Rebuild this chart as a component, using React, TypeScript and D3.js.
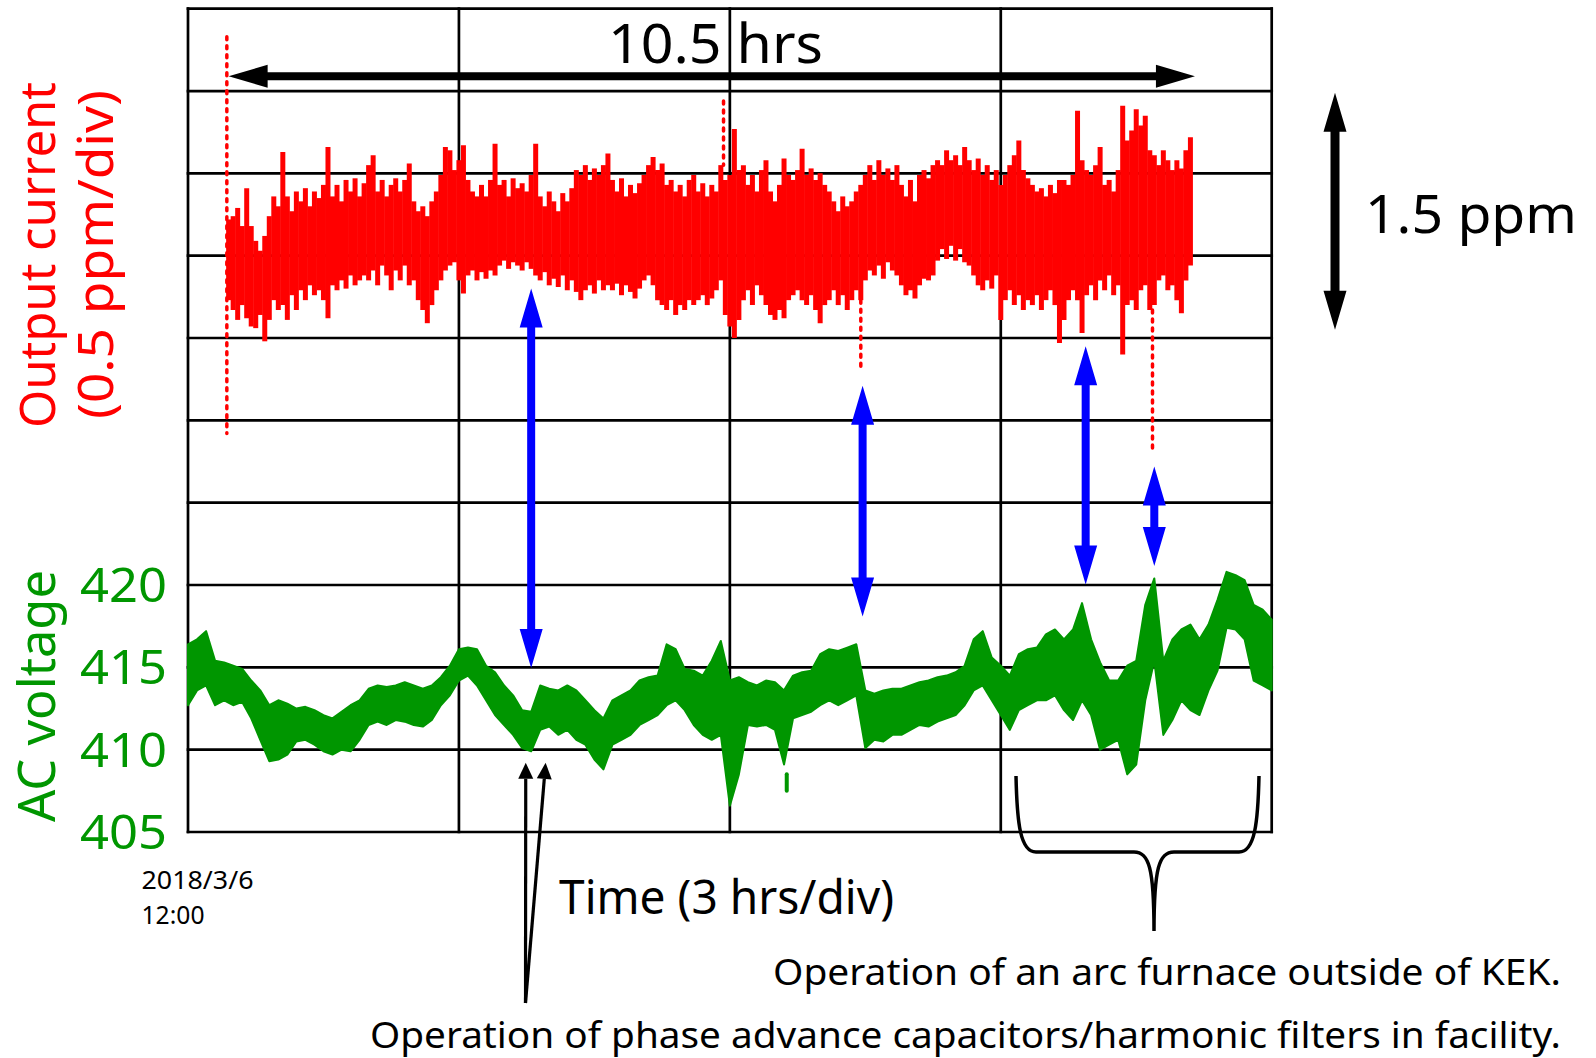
import React, { useEffect, useRef } from 'react';
import * as d3 from 'd3';

// time axis (hours since 2018/3/6 12:00), 3 hrs/div
const timeTicks = [0, 3, 6, 9, 12];
// AC voltage tick labels; the grid keeps 5 V/div up to the top
const voltLabels = [405, 410, 415, 420];
const gridVolts = [405, 410, 415, 420, 425, 430, 435, 440, 445, 450, 455];

// output current deviation (ppm), envelope every 0.05 h from 0.45 h
const redStart = 0.45;
const redStep = 0.05;
const redHi = [
  0.22, 0.24, 0.29, 0.18, 0.41, 0.18, 0.09, 0.03, 0.12, 0.24,
  0.36, 0.30, 0.63, 0.36, 0.27, 0.39, 0.33, 0.41, 0.30, 0.39,
  0.35, 0.43, 0.66, 0.36, 0.43, 0.33, 0.46, 0.39, 0.47, 0.36,
  0.44, 0.55, 0.61, 0.39, 0.46, 0.36, 0.43, 0.47, 0.39, 0.46,
  0.56, 0.33, 0.27, 0.30, 0.24, 0.33, 0.39, 0.49, 0.66, 0.64,
  0.52, 0.58, 0.67, 0.46, 0.39, 0.36, 0.43, 0.36, 0.46, 0.68,
  0.43, 0.46, 0.36, 0.47, 0.41, 0.44, 0.39, 0.49, 0.68, 0.36,
  0.30, 0.39, 0.33, 0.27, 0.38, 0.33, 0.41, 0.52, 0.49, 0.55,
  0.46, 0.53, 0.49, 0.55, 0.62, 0.46, 0.39, 0.47, 0.36, 0.43,
  0.38, 0.44, 0.49, 0.55, 0.60, 0.52, 0.56, 0.43, 0.46, 0.39,
  0.43, 0.36, 0.46, 0.49, 0.39, 0.44, 0.36, 0.43, 0.39, 0.55,
  0.46, 0.49, 0.77, 0.52, 0.55, 0.43, 0.49, 0.39, 0.52, 0.58,
  0.39, 0.33, 0.43, 0.59, 0.49, 0.46, 0.52, 0.65, 0.49, 0.53,
  0.46, 0.50, 0.43, 0.39, 0.33, 0.27, 0.36, 0.30, 0.33, 0.39,
  0.43, 0.49, 0.55, 0.46, 0.58, 0.49, 0.53, 0.46, 0.55, 0.43,
  0.36, 0.46, 0.33, 0.49, 0.52, 0.47, 0.55, 0.58, 0.55, 0.64,
  0.58, 0.61, 0.55, 0.66, 0.58, 0.52, 0.59, 0.49, 0.55, 0.46,
  0.52, 0.43, 0.49, 0.55, 0.61, 0.70, 0.52, 0.47, 0.43, 0.39,
  0.41, 0.36, 0.43, 0.38, 0.46, 0.46, 0.43, 0.49, 0.88, 0.58,
  0.52, 0.49, 0.55, 0.66, 0.43, 0.46, 0.39, 0.52, 0.91, 0.70,
  0.76, 0.89, 0.79, 0.85, 0.64, 0.61, 0.55, 0.64, 0.58, 0.52,
  0.58, 0.53, 0.64, 0.72,
];
const redLo = [
  -0.27, -0.33, -0.39, -0.30, -0.38, -0.43, -0.44, -0.36, -0.52, -0.39,
  -0.27, -0.33, -0.30, -0.39, -0.24, -0.33, -0.21, -0.27, -0.18, -0.24,
  -0.21, -0.27, -0.38, -0.18, -0.21, -0.15, -0.20, -0.12, -0.18, -0.15,
  -0.12, -0.15, -0.09, -0.18, -0.06, -0.12, -0.21, -0.09, -0.15, -0.06,
  -0.18, -0.15, -0.27, -0.33, -0.41, -0.30, -0.21, -0.15, -0.09, -0.06,
  -0.04, -0.15, -0.23, -0.12, -0.09, -0.15, -0.10, -0.14, -0.09, -0.12,
  -0.06, -0.03, -0.08, -0.04, -0.06, -0.09, -0.04, -0.08, -0.12, -0.15,
  -0.10, -0.18, -0.14, -0.19, -0.12, -0.21, -0.15, -0.22, -0.27, -0.21,
  -0.18, -0.23, -0.15, -0.21, -0.18, -0.21, -0.17, -0.24, -0.18, -0.22,
  -0.26, -0.20, -0.15, -0.12, -0.18, -0.27, -0.30, -0.33, -0.27, -0.36,
  -0.30, -0.33, -0.27, -0.30, -0.27, -0.24, -0.30, -0.26, -0.21, -0.15,
  -0.36, -0.43, -0.50, -0.39, -0.27, -0.21, -0.30, -0.18, -0.24, -0.30,
  -0.36, -0.39, -0.33, -0.38, -0.27, -0.24, -0.21, -0.27, -0.30, -0.24,
  -0.33, -0.41, -0.30, -0.27, -0.21, -0.30, -0.24, -0.33, -0.27, -0.21,
  -0.27, -0.15, -0.09, -0.12, -0.06, -0.14, -0.04, -0.09, -0.12, -0.18,
  -0.24, -0.21, -0.26, -0.18, -0.14, -0.15, -0.12, -0.03, 0.04, -0.02,
  0.06, -0.03, 0.04, -0.04, -0.06, -0.12, -0.18, -0.21, -0.15, -0.20,
  -0.12, -0.39, -0.27, -0.21, -0.30, -0.24, -0.33, -0.27, -0.30, -0.24,
  -0.33, -0.27, -0.21, -0.30, -0.53, -0.39, -0.27, -0.21, -0.27, -0.47,
  -0.24, -0.18, -0.27, -0.15, -0.21, -0.12, -0.24, -0.18, -0.60, -0.30,
  -0.27, -0.33, -0.21, -0.18, -0.33, -0.30, -0.15, -0.12, -0.21, -0.18,
  -0.27, -0.35, -0.15, -0.06,
];
// sparse dotted excursions of the current
const redTrails = [
  { t: 0.43, hi: 1.33, lo: -1.08 },
  { t: 5.93, hi: 0.94, lo: 0.55 },
  { t: 7.45, hi: -0.27, lo: -0.68 },
  { t: 10.68, hi: -0.33, lo: -1.2 },
];

// AC voltage (V), envelope every 0.1 h from 0 h
const greenStart = 0;
const greenStep = 0.1;
const greenHi = [
  416.4, 416.7, 417.2, 415.4, 415.3, 415.1, 414.9, 414.2, 413.6, 412.7,
  413.0, 412.8, 412.5, 412.6, 412.4, 412.1, 411.9, 412.3, 412.7, 413.0,
  413.7, 413.9, 413.8, 413.9, 414.1, 413.9, 413.7, 413.9, 414.4, 415.1,
  416.1, 416.2, 416.1, 415.1, 414.7, 413.9, 413.3, 412.4, 412.3, 413.9,
  413.7, 413.6, 413.9, 413.6, 413.0, 412.4, 411.9, 413.0, 413.3, 413.6,
  414.2, 414.4, 414.5, 416.4, 416.1, 414.9, 414.8, 414.5, 415.4, 416.6,
  414.2, 414.4, 414.1, 413.9, 414.2, 414.1, 413.6, 414.5, 414.7, 414.8,
  415.8, 416.1, 416.0, 416.2, 416.4, 413.6, 413.4, 413.6, 413.7, 413.7,
  413.9, 414.1, 414.2, 414.4, 414.5, 414.7, 415.1, 416.7, 417.2, 415.6,
  415.1, 414.5, 415.8, 416.1, 416.2, 417.0, 417.3, 416.7, 417.3, 418.9,
  416.7, 415.3, 414.2, 414.2, 415.1, 415.4, 418.8, 420.4, 415.4, 416.7,
  417.3, 417.6, 416.7, 417.6, 419.1, 420.8, 420.6, 420.3, 418.8, 418.5,
  417.9,
];
const greenLo = [
  412.7, 413.6, 413.9, 412.7, 413.0, 412.7, 412.9, 411.9, 410.6, 409.3,
  409.4, 409.7, 410.5, 410.6, 410.3, 409.9, 409.7, 410.0, 409.9, 410.6,
  411.5, 411.7, 411.5, 411.8, 411.7, 411.5, 411.4, 411.8, 412.7, 413.3,
  414.2, 414.5, 413.9, 413.0, 412.1, 411.5, 410.9, 410.1, 409.9, 411.2,
  411.4, 410.9, 411.2, 410.6, 410.3, 409.4, 408.8, 410.3, 410.6, 410.9,
  411.5, 411.8, 412.1, 412.7, 413.0, 412.4, 411.5, 410.9, 410.6, 410.9,
  406.6, 408.5, 411.5, 411.4, 411.5, 411.2, 409.1, 411.9, 412.1, 412.3,
  412.7, 413.0, 412.7, 413.0, 413.3, 410.1, 410.6, 410.5, 410.9, 410.9,
  411.2, 411.5, 411.4, 411.7, 411.9, 412.1, 412.7, 413.6, 413.9, 413.0,
  412.1, 411.2, 412.4, 412.7, 413.0, 413.0, 413.3, 412.4, 411.8, 413.0,
  412.1, 410.0, 410.3, 410.6, 408.5, 409.1, 413.0, 415.4, 410.9, 411.8,
  413.0, 412.4, 412.1, 413.6, 414.8, 417.4, 417.3, 416.7, 414.2, 413.9,
  413.6,
];
const greenTrails = [{ t: 6.63, hi: 408.5, lo: 407.5 }];

// correlated events: current dip (ppm) <-> voltage step (V)
const events = [
  { t: 3.8, cur: -0.2, volt: 414.96 },
  { t: 7.47, cur: -0.79, volt: 418.09 },
  { t: 9.94, cur: -0.55, volt: 420.03 },
  { t: 10.7, cur: -1.28, volt: 421.15 },
];
const capacitorTips = [
  { t: 3.74, volt: 409.2 },
  { t: 3.96, volt: 409.2 },
];
const spanHours = [0.45, 11.15];
const spanLevel = 1.09;
const scaleBar = [0.99, -0.45];

const RED = '#ff0000';
const GREEN = '#009600';
const BLUE = '#0000ff';
const FONT = "'Noto Sans', sans-serif";

function vArrow(x: number, y1: number, y2: number, shaft = 8, headLen = 39, half = 11.5) {
  const s = shaft / 2;
  return `M${x},${y1}L${x + half},${y1 + headLen}L${x + s},${y1 + headLen}L${x + s},${y2 - headLen}` +
    `L${x + half},${y2 - headLen}L${x},${y2}L${x - half},${y2 - headLen}L${x - s},${y2 - headLen}` +
    `L${x - s},${y1 + headLen}L${x - half},${y1 + headLen}Z`;
}

function hArrow(x1: number, x2: number, y: number, shaft = 8, headLen = 39, half = 11.5) {
  const s = shaft / 2;
  return `M${x1},${y}L${x1 + headLen},${y - half}L${x1 + headLen},${y - s}L${x2 - headLen},${y - s}` +
    `L${x2 - headLen},${y - half}L${x2},${y}L${x2 - headLen},${y + half}L${x2 - headLen},${y + s}` +
    `L${x1 + headLen},${y + s}L${x1 + headLen},${y + half}Z`;
}

export default function App() {
  const ref = useRef<SVGSVGElement | null>(null);

  useEffect(() => {
    const svg = d3.select(ref.current);
    svg.selectAll('*').remove();

    const x = d3.scaleLinear().domain([0, 12]).range([188, 1271.7]);
    const yV = d3.scaleLinear().domain([405, 455]).range([832, 8.7]);
    const yC = d3.scaleLinear().domain([-3.5, 1.5]).range([832, 8.7]);

    svg.append('rect').attr('width', 1596).attr('height', 1058).attr('fill', '#fff');

    // grid
    const grid = svg.append('g').attr('stroke', '#000').attr('stroke-width', 2.7).attr('stroke-linecap', 'square');
    gridVolts.forEach(v => {
      grid.append('line').attr('x1', x(0)).attr('x2', x(12)).attr('y1', yV(v)).attr('y2', yV(v));
    });
    timeTicks.forEach(t => {
      grid.append('line').attr('x1', x(t)).attr('x2', x(t)).attr('y1', yV(405)).attr('y2', yV(455));
    });

    // output current
    const red = redHi.map((h, i) => ({ t: redStart + i * redStep, hi: h, lo: redLo[i] }));
    svg.append('g')
      .selectAll('line')
      .data(red)
      .join('line')
      .attr('x1', d => x(d.t)).attr('x2', d => x(d.t))
      .attr('y1', d => yC(d.hi)).attr('y2', d => yC(d.lo))
      .attr('stroke', RED).attr('stroke-width', 5).attr('stroke-linecap', 'butt');

    svg.append('g')
      .selectAll('line')
      .data(redTrails)
      .join('line')
      .attr('x1', d => x(d.t)).attr('x2', d => x(d.t))
      .attr('y1', d => yC(d.hi)).attr('y2', d => yC(d.lo))
      .attr('stroke', RED).attr('stroke-width', 3.5)
      .attr('stroke-dasharray', '3 6').attr('stroke-linecap', 'round');

    // AC voltage
    const green = greenHi.map((h, i) => ({ t: greenStart + i * greenStep, hi: h, lo: greenLo[i] }));
    const area = d3.area<{ t: number; hi: number; lo: number }>()
      .x(d => x(d.t))
      .y0(d => yV(d.lo))
      .y1(d => yV(d.hi));
    svg.append('path')
      .datum(green)
      .attr('d', area)
      .attr('fill', GREEN)
      .attr('stroke', GREEN).attr('stroke-width', 2).attr('stroke-linejoin', 'round');

    svg.append('g')
      .selectAll('line')
      .data(greenTrails)
      .join('line')
      .attr('x1', d => x(d.t)).attr('x2', d => x(d.t))
      .attr('y1', d => yV(d.hi)).attr('y2', d => yV(d.lo))
      .attr('stroke', GREEN).attr('stroke-width', 4).attr('stroke-linecap', 'round');

    // 10.5 hrs span arrow
    svg.append('path')
      .attr('d', hArrow(x(spanHours[0]), x(spanHours[1]), yC(spanLevel)))
      .attr('fill', '#000');

    // 1.5 ppm scale arrow
    svg.append('path')
      .attr('d', vArrow(1335, yC(scaleBar[0]), yC(scaleBar[1]), 9))
      .attr('fill', '#000');

    // blue event arrows
    svg.append('g')
      .selectAll('path')
      .data(events)
      .join('path')
      .attr('d', d => vArrow(x(d.t), yC(d.cur), yV(d.volt)))
      .attr('fill', BLUE);

    // thin arrows for capacitor operation
    const base = { x: 525.5, y: 1003 };
    const thin = svg.append('g');
    capacitorTips.forEach(tip => {
      const tx = x(tip.t);
      const ty = yV(tip.volt);
      const dx = tx - base.x;
      const dy = ty - base.y;
      const len = Math.hypot(dx, dy);
      const ux = dx / len;
      const uy = dy / len;
      const hl = 16;
      const hw = 7.5;
      const bx = tx - ux * hl;
      const by = ty - uy * hl;
      thin.append('line')
        .attr('x1', base.x).attr('y1', base.y).attr('x2', bx).attr('y2', by)
        .attr('stroke', '#000').attr('stroke-width', 3.2);
      thin.append('path')
        .attr('d', `M${tx},${ty}L${bx - uy * hw},${by + ux * hw}L${bx + uy * hw},${by - ux * hw}Z`)
        .attr('fill', '#000');
    });

    // brace for arc furnace period
    svg.append('path')
      .attr('d', 'M1016,776C1017,822 1020,852 1036,852L1134,852C1149,852 1154,868 1154,931' +
        'C1154,868 1159,852 1174,852L1239,852C1255,852 1258,822 1259,776')
      .attr('fill', 'none').attr('stroke', '#000').attr('stroke-width', 3.5);

    // texts
    const txt = (s: string, xp: number, yp: number, size: number, color: string, len?: number, anchor = 'start') => {
      const t = svg.append('text')
        .attr('x', xp).attr('y', yp)
        .attr('font-family', FONT).attr('font-size', size)
        .attr('fill', color).attr('text-anchor', anchor)
        .text(s);
      if (len) t.attr('textLength', len).attr('lengthAdjust', 'spacingAndGlyphs');
      return t;
    };

    txt('10.5 hrs', 608, 63, 54, '#000', 215);
    txt('1.5 ppm', 1365, 233, 52, '#000', 212);
    txt('Time (3 hrs/div)', 559, 914, 48, '#000', 335);
    txt('Operation of an arc furnace outside of KEK.', 1561, 985, 37, '#000', 788, 'end');
    txt('Operation of phase advance capacitors/harmonic filters in facility.', 1561, 1048, 37, '#000', 1191, 'end');

    // start date, two lines
    txt('2018/3/6', 141.5, 889, 25, '#000', 112);
    txt('12:00', 141.5, 924, 25, '#000', 63);

    voltLabels.forEach(v => {
      txt(String(v), 167, yV(v) + 17, 48, GREEN, 87, 'end');
    });

    const rot = (s: string, xp: number, yc: number, size: number, color: string, len: number) => {
      svg.append('text')
        .attr('transform', `translate(${xp},${yc}) rotate(-90)`)
        .attr('font-family', FONT).attr('font-size', size)
        .attr('fill', color).attr('text-anchor', 'middle')
        .attr('textLength', len).attr('lengthAdjust', 'spacingAndGlyphs')
        .text(s);
    };
    rot('Output current', 55, 255, 50, RED, 346);
    rot('(0.5 ppm/div)', 113, 254.5, 50, RED, 329);
    rot('AC voltage', 55, 696, 51, GREEN, 252);

    return () => {
      svg.selectAll('*').remove();
    };
  }, []);

  return (
    <svg
      ref={ref}
      width={1596}
      height={1058}
      style={{ position: 'absolute', left: 0, top: 0 }}
    />
  );
}
